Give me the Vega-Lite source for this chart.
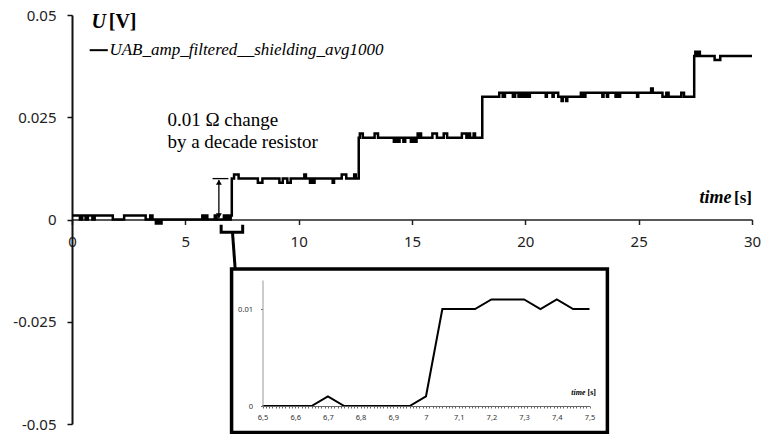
{
  "$schema": "https://vega.github.io/schema/vega-lite/v6.json",
  "width": 680,
  "height": 409,
  "autosize": "none",
  "padding": {"left": 72, "top": 15, "right": 12, "bottom": 10},
  "background": "white",
  "config": {"view": {"stroke": null}},
  "datasets": {
    "main": [
      {"t":0,"u":0.001},{"t":0.35,"u":0},{"t":0.45,"u":0.001},{"t":0.6,"u":0},{"t":0.7,"u":0.001},{"t":0.9,"u":0},{"t":1.0,"u":0.001},{"t":1.8,"u":0},{"t":2.3,"u":0.001},{"t":3.25,"u":0},{"t":3.45,"u":0.001},{"t":3.55,"u":0},{"t":3.7,"u":-0.001},{"t":3.8,"u":0},{"t":3.85,"u":-0.001},{"t":3.95,"u":0},{"t":5.75,"u":0.001},{"t":5.82,"u":0},{"t":5.9,"u":0.001},{"t":5.97,"u":0},{"t":6.3,"u":0.001},{"t":6.38,"u":0},{"t":6.7,"u":0.001},{"t":6.75,"u":0},{"t":6.85,"u":0.001},{"t":6.9,"u":0},{"t":7.0,"u":0.001},{"t":7.05,"u":0.01},{"t":7.15,"u":0.011},{"t":7.35,"u":0.01},{"t":8.2,"u":0.009},{"t":8.4,"u":0.01},{"t":9.15,"u":0.009},{"t":9.3,"u":0.01},{"t":9.5,"u":0.009},{"t":9.65,"u":0.01},{"t":10.25,"u":0.011},{"t":10.32,"u":0.01},{"t":10.5,"u":0.009},{"t":10.58,"u":0.01},{"t":10.62,"u":0.009},{"t":10.7,"u":0.01},{"t":11.5,"u":0.009},{"t":11.56,"u":0.01},{"t":11.9,"u":0.011},{"t":12.1,"u":0.01},{"t":12.45,"u":0.011},{"t":12.52,"u":0.01},{"t":12.65,"u":0.02},{"t":12.7,"u":0.021},{"t":12.83,"u":0.02},{"t":13.35,"u":0.021},{"t":13.5,"u":0.02},{"t":14.2,"u":0.019},{"t":14.3,"u":0.02},{"t":14.35,"u":0.019},{"t":14.45,"u":0.02},{"t":14.62,"u":0.019},{"t":14.7,"u":0.02},{"t":14.95,"u":0.019},{"t":15.0,"u":0.02},{"t":15.1,"u":0.019},{"t":15.2,"u":0.02},{"t":15.25,"u":0.021},{"t":15.3,"u":0.02},{"t":15.35,"u":0.021},{"t":15.4,"u":0.02},{"t":15.9,"u":0.021},{"t":16.1,"u":0.02},{"t":16.4,"u":0.021},{"t":16.55,"u":0.02},{"t":17.2,"u":0.021},{"t":17.4,"u":0.02},{"t":17.5,"u":0.021},{"t":17.56,"u":0.02},{"t":17.72,"u":0.021},{"t":17.78,"u":0.02},{"t":18.1,"u":0.03},{"t":18.85,"u":0.031},{"t":19.0,"u":0.03},{"t":19.1,"u":0.031},{"t":19.45,"u":0.03},{"t":19.55,"u":0.031},{"t":19.7,"u":0.03},{"t":19.8,"u":0.031},{"t":19.9,"u":0.03},{"t":20.0,"u":0.031},{"t":20.1,"u":0.03},{"t":20.2,"u":0.031},{"t":20.9,"u":0.03},{"t":20.95,"u":0.031},{"t":21.2,"u":0.03},{"t":21.25,"u":0.031},{"t":21.45,"u":0.03},{"t":21.6,"u":0.029},{"t":21.65,"u":0.03},{"t":21.8,"u":0.029},{"t":21.85,"u":0.03},{"t":22.45,"u":0.031},{"t":22.55,"u":0.03},{"t":22.65,"u":0.031},{"t":23.4,"u":0.03},{"t":23.45,"u":0.031},{"t":23.6,"u":0.03},{"t":23.65,"u":0.031},{"t":23.98,"u":0.03},{"t":24.03,"u":0.031},{"t":24.13,"u":0.03},{"t":24.18,"u":0.031},{"t":24.93,"u":0.03},{"t":24.98,"u":0.031},{"t":25.55,"u":0.032},{"t":25.62,"u":0.031},{"t":26.05,"u":0.03},{"t":26.22,"u":0.031},{"t":26.32,"u":0.03},{"t":26.88,"u":0.031},{"t":27.0,"u":0.03},{"t":27.45,"u":0.04},{"t":27.5,"u":0.041},{"t":27.55,"u":0.04},{"t":27.65,"u":0.041},{"t":27.7,"u":0.04},{"t":28.35,"u":0.039},{"t":28.6,"u":0.04},{"t":30,"u":0.04}
    ],
    "inset": [
      {"t":6.5,"u":0},{"t":6.55,"u":0},{"t":6.6,"u":0},{"t":6.65,"u":0},{"t":6.7,"u":0.001},{"t":6.75,"u":0},{"t":6.8,"u":0},{"t":6.85,"u":0},{"t":6.9,"u":0},{"t":6.95,"u":0},{"t":7.0,"u":0.001},{"t":7.05,"u":0.01},{"t":7.1,"u":0.01},{"t":7.15,"u":0.01},{"t":7.2,"u":0.011},{"t":7.25,"u":0.011},{"t":7.3,"u":0.011},{"t":7.35,"u":0.01},{"t":7.4,"u":0.011},{"t":7.45,"u":0.01},{"t":7.5,"u":0.01}
    ]
  },
  "resolve": {"scale": {"x": "independent", "y": "independent"}, "axis": {"x": "independent", "y": "independent"}},
  "layer": [
    {
      "encoding": {
        "x": {"field": "t", "type": "quantitative",
          "scale": {"domain": [0, 30], "nice": false, "zero": false},
          "axis": {"orient": "bottom", "offset": -204.5, "values": [0,5,10,15,20,25,30], "tickSize": 5, "tickWidth": 1.5, "domainWidth": 1.5, "domainColor": "#222", "tickColor": "#222", "labelFont": "Noto Sans", "labelFontSize": 15, "labelColor": "#222", "labelPadding": 10, "title": null, "grid": false, "labelFlush": false}},
        "y": {"field": "u", "type": "quantitative",
          "scale": {"domain": [-0.05, 0.05], "nice": false, "zero": false},
          "axis": {"orient": "left", "values": [-0.05,-0.025,0,0.025,0.05], "labelExpr": "toString(datum.value)", "tickSize": 5, "tickWidth": 1.5, "domainWidth": 2, "domainColor": "#111", "tickColor": "#111", "labelFont": "Noto Sans", "labelFontSize": 15, "labelColor": "#222", "labelPadding": 11, "title": null, "grid": false, "labelFlush": false}}
      },
      "layer": [
        {"data": {"name": "main"}, "mark": {"type": "line", "interpolate": "step-after", "color": "black", "strokeWidth": 2.5}},
        {"data": {"values": [{"t": 6.2, "t2": 6.9, "u": 0.01}]},
         "mark": {"type": "rule", "color": "black", "strokeWidth": 1.3},
         "encoding": {"x2": {"field": "t2"}}},
        {"data": {"values": [{"t": 0.78, "t2": 1.58, "u": 0.0414}]},
         "mark": {"type": "rule", "color": "black", "strokeWidth": 2},
         "encoding": {"x2": {"field": "t2"}}},
        {"data": {"values": [{"t": 6.48, "u": 0.0004, "u2": 0.0096}]},
         "mark": {"type": "rule", "color": "black", "strokeWidth": 1.3},
         "encoding": {"y2": {"field": "u2"}}},
        {"data": {"values": [{"t": 6.48, "u": 0.0091, "s": "triangle-up"}, {"t": 6.48, "u": 0.0009, "s": "triangle-down"}]},
         "mark": {"type": "point", "filled": true, "color": "black", "size": 35, "opacity": 1},
         "encoding": {"shape": {"field": "s", "type": "nominal", "scale": null, "legend": null}}},
        {"data": {"values": [{"k": 1, "t": 6.58, "u": -0.0013}, {"k": 2, "t": 6.58, "u": -0.0031}, {"k": 3, "t": 7.53, "u": -0.0031}, {"k": 4, "t": 7.53, "u": -0.0013}]},
         "mark": {"type": "line", "color": "black", "strokeWidth": 3},
         "encoding": {"order": {"field": "k", "type": "quantitative"}}},
        {"data": {"values": [{"k": 1, "t": 7.08, "u": -0.0031}, {"k": 2, "t": 7.2, "u": -0.0122}]},
         "mark": {"type": "line", "color": "black", "strokeWidth": 3},
         "encoding": {"order": {"field": "k", "type": "quantitative"}}},
        {"data": {"values": [{"t": 7.04, "t2": 23.62, "u": -0.0121, "u2": -0.0521}]},
         "mark": {"type": "rect", "fill": "white", "stroke": "black", "strokeWidth": 3.5},
         "encoding": {"x2": {"field": "t2"}, "y2": {"field": "u2"}}},
        {"data": {"values": [{"t": 0.86, "u": 0.0483, "label": "U"}]},
         "mark": {"type": "text", "font": "Liberation Serif", "fontSize": 20, "fontWeight": "bold", "fontStyle": "italic", "baseline": "middle", "align": "left", "color": "black"},
         "encoding": {"text": {"field": "label"}}},
        {"data": {"values": [{"t": 1.62, "u": 0.0483, "label": "[V]"}]},
         "mark": {"type": "text", "font": "Liberation Serif", "fontSize": 20, "fontWeight": "bold", "baseline": "middle", "align": "left", "color": "black"},
         "encoding": {"text": {"field": "label"}}},
        {"data": {"values": [{"t": 29.1, "u": 0.0053, "label": "time"}]},
         "mark": {"type": "text", "font": "Liberation Serif", "fontSize": 18, "fontWeight": "bold", "fontStyle": "italic", "baseline": "middle", "align": "right", "color": "black"},
         "encoding": {"text": {"field": "label"}}},
        {"data": {"values": [{"t": 30, "u": 0.0053, "label": "[s]"}]},
         "mark": {"type": "text", "font": "Liberation Serif", "fontSize": 17, "fontWeight": "bold", "baseline": "middle", "align": "right", "color": "black"},
         "encoding": {"text": {"field": "label"}}},
        {"data": {"values": [{"t": 1.65, "u": 0.0414, "label": "UAB_amp_filtered__shielding_avg1000"}]},
         "mark": {"type": "text", "font": "Liberation Serif", "fontSize": 17, "fontStyle": "italic", "baseline": "middle", "align": "left", "color": "black"},
         "encoding": {"text": {"field": "label"}}},
        {"data": {"values": [{"t": 4.21, "u": 0.0243, "label": "0.01 Ω change"}, {"t": 4.21, "u": 0.019, "label": "by a decade resistor"}]},
         "mark": {"type": "text", "font": "Liberation Serif", "fontSize": 19, "baseline": "middle", "align": "left", "color": "black"},
         "encoding": {"text": {"field": "label"}}}
      ]
    },
    {
      "encoding": {
        "x": {"field": "t", "type": "quantitative",
          "scale": {"domain": [6.5, 7.5], "range": [190.5, 517.5], "nice": false, "zero": false},
          "axis": {"orient": "bottom", "offset": -18, "zindex": 2, "tickCount": 100, "labelExpr": "abs(datum.value*10 - round(datum.value*10)) < 0.0001 ? replace(format(datum.value, '.1~f'), '.', ',') : ''", "labelOverlap": false, "labelFont": "Noto Sans", "labelFontSize": 7.5, "labelPadding": 5, "labelColor": "#333", "tickSize": 2, "domainColor": "#666", "tickColor": "#666", "title": null, "grid": false, "labelFlush": false}},
        "y": {"field": "u", "type": "quantitative",
          "scale": {"domain": [0, 0.013], "range": [391, 265], "nice": false, "zero": false},
          "axis": {"orient": "left", "offset": -190.5, "zindex": 2, "values": [0, 0.01], "labelExpr": "datum.value == 0 ? '0' : '0.01'", "labelFont": "Noto Sans", "labelFontSize": 7.5, "labelPadding": 8, "labelColor": "#333", "tickSize": 2, "domainColor": "#999", "tickColor": "#666", "title": null, "grid": false, "labelFlush": false}}
      },
      "layer": [
        {"data": {"name": "inset"}, "mark": {"type": "line", "color": "black", "strokeWidth": 2}},
        {"data": {"values": [{"t": 7.488, "u": 0.0013, "label": "time"}]},
         "mark": {"type": "text", "font": "Liberation Serif", "fontSize": 8, "fontWeight": "bold", "fontStyle": "italic", "baseline": "middle", "align": "right", "color": "black"},
         "encoding": {"text": {"field": "label"}}},
        {"data": {"values": [{"t": 7.52, "u": 0.0013, "label": "[s]"}]},
         "mark": {"type": "text", "font": "Liberation Serif", "fontSize": 8, "fontWeight": "bold", "baseline": "middle", "align": "right", "color": "black"},
         "encoding": {"text": {"field": "label"}}}
      ]
    }
  ]
}
